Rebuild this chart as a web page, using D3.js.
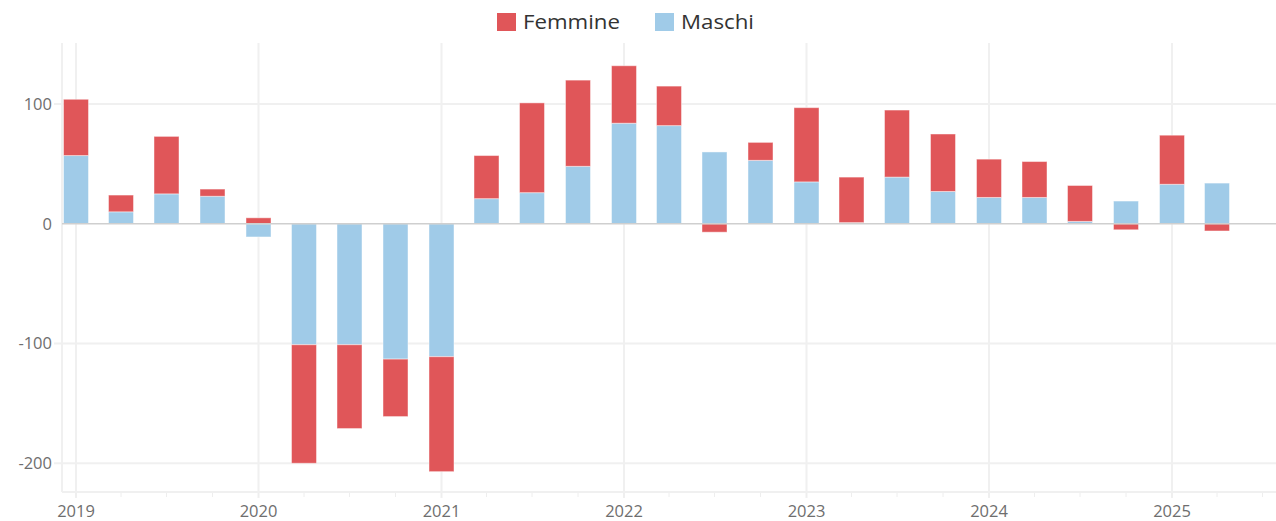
<!DOCTYPE html>
<html lang="it">
<head>
<meta charset="UTF-8">
<title>Femmine / Maschi</title>
<script src="https://d3js.org/d3.v7.min.js"></script>
<style>
    body { margin: 0; background: #fff; }
    svg { display: block; font-family: "Open Sans", sans-serif; }
    .tick-label { fill: #6e6e6e; font-size: 16.5px; }
    .legend-label { fill: #333; font-size: 20px; }
</style>
</head>
<body>
<svg width="1276" height="521"></svg>
<script>
    // quarters (start date of each quarter)
    const quarters = [
        "2019-01-01", "2019-04-01", "2019-07-01", "2019-10-01",
        "2020-01-01", "2020-04-01", "2020-07-01", "2020-10-01",
        "2021-01-01", "2021-04-01", "2021-07-01", "2021-10-01",
        "2022-01-01", "2022-04-01", "2022-07-01", "2022-10-01",
        "2023-01-01", "2023-04-01", "2023-07-01", "2023-10-01",
        "2024-01-01", "2024-04-01", "2024-07-01", "2024-10-01",
        "2025-01-01", "2025-04-01"
    ];
    const maschi = [57, 10, 25, 23, -11, -101, -101, -113, -111, 21, 26, 48, 84, 82, 60, 53, 35, 1, 39, 27, 22, 22, 2, 19, 33, 34];
    const femmine = [47, 14, 48, 6, 5, -99, -70, -48, -96, 36, 75, 72, 48, 33, -7, 15, 62, 38, 56, 48, 32, 30, 30, -5, 41, -6];
    const yTicks = [-200, -100, 0, 100];
    const yearTicks = ["2019", "2020", "2021", "2022", "2023", "2024", "2025"];

    const seriesNames = ["Femmine", "Maschi"];
    const colors = { Femmine: "#e05659", Maschi: "#a0cbe8" };

    const parse = d3.timeParse("%Y-%m-%d");
    const rows = quarters.map((q, i) => ({ date: parse(q), Maschi: maschi[i], Femmine: femmine[i] }));

    const svg = d3.select("svg");
    const plotLeft = 62, plotRight = 1276, plotTop = 43, plotBottom = 492;

    const x = d3.scaleTime()
        .domain([parse("2018-12-04"), parse("2025-07-28")])
        .range([plotLeft, plotRight]);
    const y = d3.scaleLinear()
        .domain([-224, 151])
        .range([plotBottom, plotTop]);

    // stack: maschi first (next to zero), femmine on top / below
    const stacked = d3.stack()
        .keys(["Maschi", "Femmine"])
        .offset(d3.stackOffsetDiverging)(rows);

    // horizontal grid
    svg.append("g").selectAll("line")
        .data(yTicks.filter(d => d !== 0))
        .join("line")
        .attr("x1", plotLeft - 8).attr("x2", plotRight)
        .attr("y1", d => y(d)).attr("y2", d => y(d))
        .attr("stroke", "#f0f0f0").attr("stroke-width", 2);

    // vertical grid at years
    svg.append("g").selectAll("line")
        .data(yearTicks)
        .join("line")
        .attr("x1", d => x(parse(d + "-01-01"))).attr("x2", d => x(parse(d + "-01-01")))
        .attr("y1", plotTop).attr("y2", plotBottom + 6)
        .attr("stroke", "#f0f0f0").attr("stroke-width", 2);

    // quarter minor ticks
    svg.append("g").selectAll("line")
        .data(x.ticks(d3.timeMonth.every(3)))
        .join("line")
        .attr("x1", d => x(d)).attr("x2", d => x(d))
        .attr("y1", plotBottom).attr("y2", plotBottom + 5)
        .attr("stroke", "#eeeeee").attr("stroke-width", 1);

    // axis frame lines
    svg.append("line")
        .attr("x1", plotLeft).attr("x2", plotLeft).attr("y1", plotTop).attr("y2", plotBottom)
        .attr("stroke", "#f0f0f0").attr("stroke-width", 2);
    svg.append("line")
        .attr("x1", plotLeft).attr("x2", plotRight).attr("y1", plotBottom).attr("y2", plotBottom)
        .attr("stroke", "#f0f0f0").attr("stroke-width", 2);

    // bars
    const barW = 25;
    svg.append("g").selectAll("g")
        .data(stacked)
        .join("g")
        .attr("fill", s => colors[s.key])
        .selectAll("rect")
        .data(s => s)
        .join("rect")
        .attr("x", d => x(d.data.date) - barW / 2)
        .attr("width", barW)
        .attr("y", d => y(Math.max(d[0], d[1])))
        .attr("height", d => Math.abs(y(d[0]) - y(d[1])))
        .attr("stroke", "rgba(255,255,255,0.45)")
        .attr("stroke-width", 1);

    // zero line
    svg.append("line")
        .attr("x1", plotLeft).attr("x2", plotRight).attr("y1", y(0)).attr("y2", y(0))
        .attr("stroke", "#cfcfcf").attr("stroke-width", 1.5);

    // y labels
    svg.append("g").selectAll("text")
        .data(yTicks)
        .join("text")
        .attr("class", "tick-label")
        .attr("x", 52).attr("y", d => y(d))
        .attr("dy", "0.35em")
        .attr("text-anchor", "end")
        .text(d => d);

    // x labels
    svg.append("g").selectAll("text")
        .data(yearTicks)
        .join("text")
        .attr("class", "tick-label")
        .attr("x", d => x(parse(d + "-01-01")))
        .attr("y", 517)
        .attr("text-anchor", "middle")
        .text(d => d);

    // legend
    const legendX = [497, 655];
    const legend = svg.append("g").selectAll("g")
        .data(seriesNames)
        .join("g")
        .attr("transform", (d, i) => `translate(${legendX[i]},13)`);
    legend.append("rect")
        .attr("width", 19).attr("height", 18)
        .attr("fill", d => colors[d]);
    legend.append("text")
        .attr("class", "legend-label")
        .attr("x", 26).attr("y", 16)
        .attr("textLength", d => d === "Femmine" ? 97 : 73)
        .attr("lengthAdjust", "spacingAndGlyphs")
        .text(d => d);
</script>
</body>
</html>
